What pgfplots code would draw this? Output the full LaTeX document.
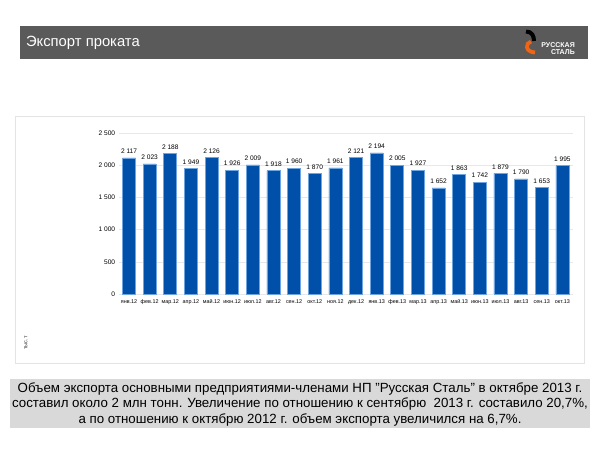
\documentclass[border=0pt]{standalone}
\usepackage{pgfplots}
\pgfplotsset{compat=1.18}
\usepackage{fontspec}
\setmainfont{Liberation Sans}
\definecolor{barblue}{RGB}{0,80,170}
\definecolor{baredge}{RGB}{110,165,225}
\definecolor{headgray}{RGB}{90,90,90}
\definecolor{boxgray}{RGB}{217,217,217}
\definecolor{framegray}{RGB}{228,228,228}
\definecolor{gridgray}{RGB}{232,232,232}
\definecolor{logoorange}{RGB}{240,100,20}
\begin{document}
\begin{tikzpicture}[x=1pt,y=1pt]
\path[use as bounding box,fill=white] (0,0) rectangle (600,450);
% header
\fill[headgray] (20,391) rectangle (588,424);
\node[anchor=west,text=white,font=\fontsize{14.8}{16}\selectfont] at (22.5,407.5) {Экспорт проката};
% logo
\draw[line width=4pt,black] (526,418.5) .. controls (532,418.5) and (534,414) .. (534,409);
\draw[line width=3.8pt,logoorange] (531,408.5) .. controls (525,407) and (525,398) .. (535,397.5);
\node[anchor=east,text=white,font=\fontsize{7}{8}\selectfont\bfseries,inner sep=0] at (575,404.7) {РУССКАЯ};
\node[anchor=east,text=white,font=\fontsize{7}{8}\selectfont\bfseries,inner sep=0] at (575,398) {СТАЛЬ};
% frame
\draw[framegray,fill=white] (15,87) rectangle (584,334);
\node[rotate=90,font=\fontsize{5.5}{6}\selectfont,text=black!80] at (26,107) {тыс.т};
\begin{axis}[
  at={(118.7pt,156pt)}, anchor=south west,
  scale only axis, width=454pt, height=160.7pt,
  ybar, bar width=13pt,
  xmin=-0.5, xmax=21.5, ymin=0, ymax=2500,
  ytick={0,500,1000,1500,2000,2500},
  xtick=data,
  xticklabels={янв.12,фев.12,мар.12,апр.12,май.12,июн.12,июл.12,авг.12,сен.12,окт.12,ноя.12,дек.12,янв.13,фев.13,мар.13,апр.13,май.13,июн.13,июл.13,авг.13,сен.13,окт.13},
  axis line style={draw=none},
  major tick style={draw=none},
  ymajorgrids, grid style={gridgray,line width=0.6pt},
  /pgf/number format/assume math mode=true,
  /pgf/number format/1000 sep={\ },
  yticklabel style={font=\fontsize{6.6}{7}\selectfont},
  xticklabel style={font=\fontsize{5.4}{6}\selectfont,yshift=2pt},
  nodes near coords,
  nodes near coords style={font=\fontsize{6.6}{7}\selectfont,yshift=0.5pt},
  clip=false,
]
\addplot[fill=barblue,draw=baredge,line width=0.6pt] coordinates {
(0,2117) (1,2023) (2,2188) (3,1949) (4,2126) (5,1926) (6,2009) (7,1918)
(8,1960) (9,1870) (10,1961) (11,2121) (12,2194) (13,2005) (14,1927)
(15,1652) (16,1863) (17,1742) (18,1879) (19,1790) (20,1653) (21,1995)};
\end{axis}
% text box
\fill[boxgray] (10,22) rectangle (590,71);
\node[align=center,font=\fontsize{13.3}{15.5}\selectfont,inner sep=0] at (300,45.5) {Объем экспорта основными предприятиями-членами НП "Русская Сталь" в октябре 2013 г.\\составил около 2 млн тонн. Увеличение по отношению к сентябрю\ \ 2013 г. составило 20,7\%,\\а по отношению к октябрю 2012 г. объем экспорта увеличился на 6,7\%.};
\end{tikzpicture}
\end{document}
